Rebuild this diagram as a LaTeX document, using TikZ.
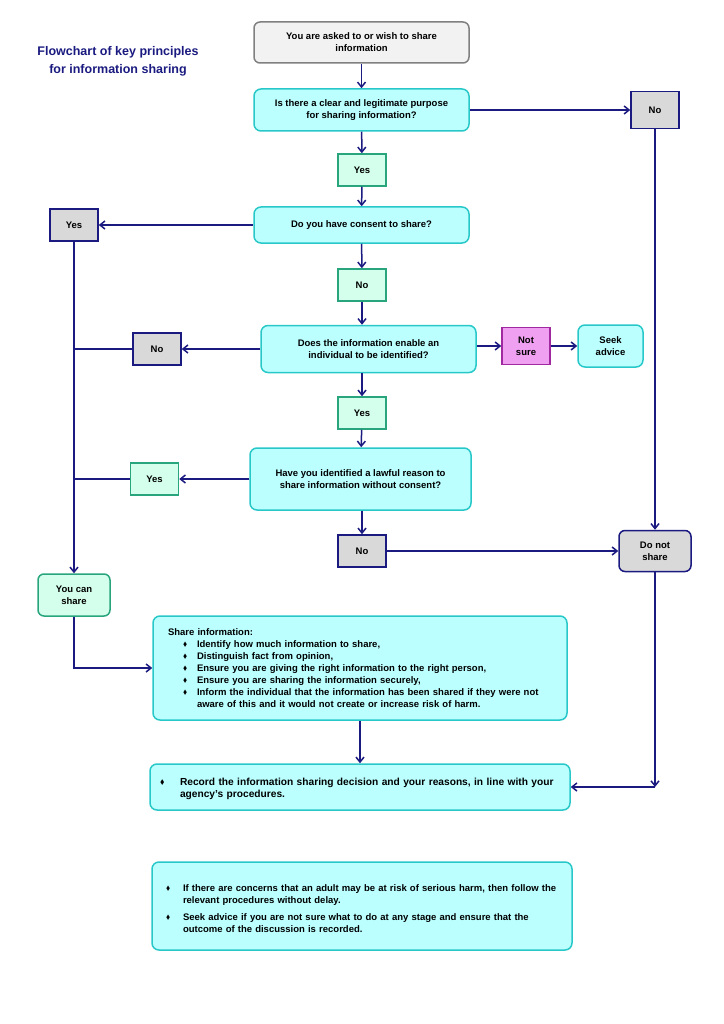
\documentclass[tikz,border=0pt]{standalone}
\usepackage{fontspec}
\usepackage{amssymb}
\setmainfont{Liberation Sans}
\usetikzlibrary{arrows.meta}

\definecolor{navy}{RGB}{26,26,128}
\definecolor{qfill}{RGB}{187,255,255}
\definecolor{qline}{RGB}{40,200,200}
\definecolor{yfill}{RGB}{212,255,236}
\definecolor{yline}{RGB}{40,165,125}
\definecolor{nfill}{RGB}{217,217,217}
\definecolor{sfill}{RGB}{242,242,242}
\definecolor{sline}{RGB}{128,128,128}
\definecolor{pfill}{RGB}{240,160,240}
\definecolor{pline}{RGB}{160,40,160}

\newcommand{\bul}{\raisebox{1pt}{\scalebox{0.65}{$\blacklozenge$}}}
\newcommand{\ditem}[3]{\par\noindent\hspace*{#1}\makebox[#2][l]{\bul}\parbox[t]{\dimexpr\linewidth-#1-#2\relax}{#3}}

\tikzset{
  box/.style={draw, line width=1.5pt, align=center, inner sep=2pt,
    font=\fontsize{9.5}{12}\selectfont\bfseries},
  startbox/.style={box, fill=sfill, draw=sline, rounded corners=6pt},
  qbox/.style={box, fill=qfill, draw=qline, rounded corners=7pt},
  yesbox/.style={box, fill=yfill, draw=yline, minimum width=48pt, minimum height=32pt},
  nobox/.style={box, fill=nfill, draw=navy, minimum width=48pt, minimum height=32pt},
  arr/.style={draw=navy, line width=1.5pt, -{Straight Barb[length=5pt,width=8pt]}},
  link/.style={draw=navy, line width=1.5pt}
}

\begin{document}
\begin{tikzpicture}[x=1pt,y=1pt,yscale=-1]
\useasboundingbox (0,0) rectangle (723,1024);

% title
\node[font=\fontsize{12.5}{18}\selectfont\bfseries, text=navy, align=center] (title) at (118,61)
  {Flowchart of key principles\\for information sharing};

% main column
\node[startbox, minimum width=215pt, minimum height=41pt] (start) at (361.5,42.5)
  {You are asked to or wish to share\\information};
\node[qbox, minimum width=215pt, minimum height=42pt] (q1) at (361.5,110)
  {Is there a clear and legitimate purpose\\for sharing information?};
\node[yesbox] (yes1) at (362,170) {Yes};
\node[qbox, minimum width=215pt, minimum height=36pt] (q2) at (361.5,225)
  {Do you have consent to share?};
\node[yesbox] (no2) at (362,285) {No};
\node[qbox, minimum width=215pt, minimum height=47pt] (q3) at (368.5,349)
  {Does the information enable an\\individual to be identified?};
\node[yesbox] (yes3) at (362,413) {Yes};
\node[qbox, minimum width=221pt, minimum height=62pt] (q4) at (360.5,479)
  {Have you identified a lawful reason to\\share information without consent?};
\node[nobox] (no4) at (362,551) {No};

% side answers
\node[nobox, minimum height=37pt] (no1) at (655,110) {No};
\node[nobox] (yes2) at (74,225) {Yes};
\node[nobox] (no3) at (157,349) {No};
\node[box, fill=pfill, draw=pline, minimum width=48pt, minimum height=37pt] (notsure) at (526,346)
  {Not\\sure};
\node[qbox, minimum width=65pt, minimum height=42pt] (seek) at (610.5,346)
  {Seek\\advice};
\node[yesbox] (yes4) at (154.5,479) {Yes};
\node[box, fill=nfill, draw=navy, rounded corners=6pt, minimum width=72pt, minimum height=41pt] (dont) at (655,551)
  {Do not\\share};
\node[box, fill=yfill, draw=yline, rounded corners=6pt, minimum width=72pt, minimum height=42pt] (youcan) at (74,595)
  {You can\\share};

% lower boxes
\node[qbox, minimum width=414pt, minimum height=104pt, text width=384pt, inner xsep=15pt, align=left] (share) at (360,668)
  {Share information:
   \ditem{15pt}{14pt}{Identify how much information to share,}
   \ditem{15pt}{14pt}{Distinguish fact from opinion,}
   \ditem{15pt}{14pt}{Ensure you are giving the right information to the right person,}
   \ditem{15pt}{14pt}{Ensure you are sharing the information securely,}
   \ditem{15pt}{14pt}{Inform the individual that the information has been shared if they were not\\aware of this and it would not create or increase risk of harm.}};
\node[qbox, minimum width=420pt, minimum height=46pt, text width=412pt, inner xsep=4pt, align=left,
  font=\fontsize{10.2}{12}\selectfont\bfseries] (record) at (360,787)
  {\ditem{6pt}{20pt}{Record the information sharing decision and your reasons, in line with your\\agency's procedures.}};
\node[qbox, minimum width=420pt, minimum height=88pt, text width=400pt, inner xsep=10pt, align=left] (notes) at (362,906)
  {\ditem{4pt}{17pt}{If there are concerns that an adult may be at risk of serious harm, then follow the\\relevant procedures without delay.}\par\vspace{8pt}
   \ditem{4pt}{17pt}{Seek advice if you are not sure what to do at any stage and ensure that the\\outcome of the discussion is recorded.}};

% connectors
\coordinate (corner) at (dont.south |- record.east);
\path[arr] (start) -- (q1);
\path[arr] (q1) -- (yes1);
\path[arr] (yes1) -- (q2);
\path[arr] (q2) -- (no2);
\path[arr] (no2) -- (q3.north -| no2);
\path[arr] (q3.south -| yes3) -- (yes3);
\path[arr] (yes3) -- (q4);
\path[arr] (q4.south -| no4) -- (no4);
\path[arr] (q1) -- (no1);
\path[arr] (no1) -- (dont);
\path[arr] (no4) -- (dont);
\path[arr] (q2) -- (yes2);
\path[arr] (q3) -- (no3);
\path[arr] (q3.east |- notsure) -- (notsure);
\path[arr] (notsure) -- (seek);
\path[arr] (q4) -- (yes4);
\path[link] (no3.west) -- (no3.west -| yes2);
\path[link] (yes4.west) -- (yes4.west -| yes2);
\path[arr] (yes2) -- (youcan);
\path[arr] (youcan.south) |- (share.west);
\path[arr] (share) -- (record);
\path[arr] (dont.south) -- (corner);
\path[arr] (corner) -- (record.east);
\end{tikzpicture}
\end{document}
